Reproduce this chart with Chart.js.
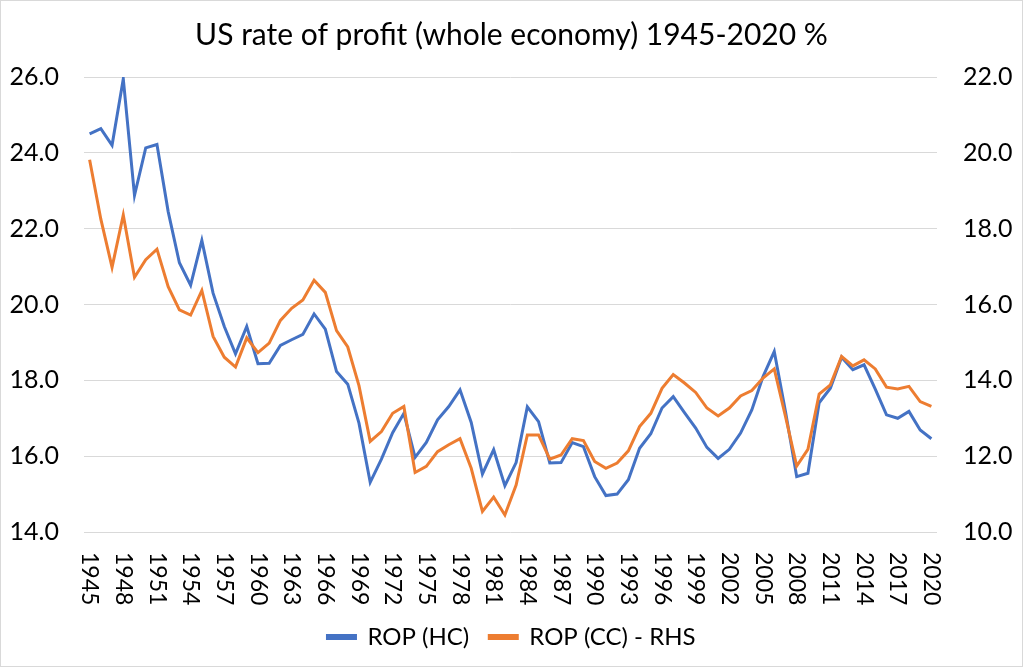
<!DOCTYPE html>
<html>
<head>
<meta charset="utf-8">
<script src="https://cdn.jsdelivr.net/npm/chart.js@4.4.1/dist/chart.umd.min.js"></script>
<style>
    html, body { margin: 0; padding: 0; background: #fff; }
    #wrap { width: 1023px; height: 667px; position: relative; }
</style>
</head>
<body>
<div id="wrap"><canvas id="myChart"></canvas></div>
<script>
const anios = [
    '1945', '1946', '1947', '1948', '1949', '1950', '1951', '1952', '1953', '1954',
    '1955', '1956', '1957', '1958', '1959', '1960', '1961', '1962', '1963', '1964',
    '1965', '1966', '1967', '1968', '1969', '1970', '1971', '1972', '1973', '1974',
    '1975', '1976', '1977', '1978', '1979', '1980', '1981', '1982', '1983', '1984',
    '1985', '1986', '1987', '1988', '1989', '1990', '1991', '1992', '1993', '1994',
    '1995', '1996', '1997', '1998', '1999', '2000', '2001', '2002', '2003', '2004',
    '2005', '2006', '2007', '2008', '2009', '2010', '2011', '2012', '2013', '2014',
    '2015', '2016', '2017', '2018', '2019', '2020'
];

// ROP (HC), eje izquierdo
const ropHC = [
    24.50, 24.64, 24.20, 25.95, 22.88, 24.13, 24.22, 22.45, 21.10, 20.51,
    21.69, 20.30, 19.42, 18.70, 19.42, 18.44, 18.45, 18.92, 19.07, 19.21,
    19.75, 19.35, 18.23, 17.90, 16.87, 15.31, 15.92, 16.62, 17.13, 15.97,
    16.36, 16.96, 17.31, 17.75, 16.89, 15.53, 16.17, 15.22, 15.83, 17.30,
    16.91, 15.82, 15.83, 16.36, 16.25, 15.46, 14.96, 15.00, 15.38, 16.21,
    16.59, 17.27, 17.57, 17.15, 16.74, 16.23, 15.94, 16.18, 16.61, 17.22,
    18.10, 18.76, 17.18, 15.46, 15.55, 17.41, 17.79, 18.61, 18.28, 18.41,
    17.77, 17.09, 17.00, 17.18, 16.69, 16.46
];

// ROP (CC), eje derecho
const ropCC = [
    19.82, 18.25, 16.98, 18.36, 16.72, 17.18, 17.46, 16.47, 15.86, 15.72,
    16.37, 15.16, 14.61, 14.35, 15.12, 14.73, 14.98, 15.58, 15.90, 16.12,
    16.64, 16.32, 15.31, 14.88, 13.86, 12.39, 12.65, 13.13, 13.31, 11.57,
    11.73, 12.12, 12.30, 12.46, 11.68, 10.54, 10.92, 10.45, 11.24, 12.56,
    12.56, 11.92, 12.03, 12.46, 12.41, 11.86, 11.68, 11.82, 12.14, 12.78,
    13.13, 13.79, 14.15, 13.93, 13.68, 13.27, 13.06, 13.27, 13.59, 13.73,
    14.06, 14.30, 13.05, 11.74, 12.18, 13.64, 13.88, 14.63, 14.38, 14.54,
    14.30, 13.82, 13.77, 13.84, 13.44, 13.31
];

const fuente = 'Lato, "Open Sans", sans-serif';

// Fondo blanco y marco gris
const marco = {
    id: 'marco',
    beforeDraw(chart) {
        const ctx = chart.ctx;
        ctx.save();
        ctx.fillStyle = '#fff';
        ctx.fillRect(0, 0, chart.width, chart.height);
        ctx.strokeStyle = '#d9d9d9';
        ctx.lineWidth = 1;
        ctx.strokeRect(0.5, 0.5, chart.width - 1, chart.height - 1);
        ctx.restore();
    }
};

// Etiquetas de años giradas hacia la derecha, como en Excel
const etiquetasX = {
    id: 'etiquetasX',
    afterDraw(chart) {
        const x = chart.scales.x;
        const ctx = chart.ctx;
        ctx.save();
        ctx.fillStyle = '#000';
        ctx.font = '23px ' + fuente;
        ctx.textAlign = 'left';
        ctx.textBaseline = 'middle';
        anios.forEach((a, i) => {
            if (i % 3 !== 0) return;
            ctx.save();
            ctx.translate(x.getPixelForValue(i), x.top + 20);
            ctx.rotate(Math.PI / 2);
            ctx.fillText(a, 0, 0);
            ctx.restore();
        });
        ctx.restore();
    }
};

function crearGrafico() {
    const ctx = document.getElementById('myChart').getContext('2d');

    new Chart(ctx, {
        type: 'line',
        data: {
            labels: anios,
            datasets: [
                {
                    label: 'ROP (HC)',
                    data: ropHC,
                    borderColor: '#4472C4',
                    backgroundColor: '#4472C4',
                    borderWidth: 3,
                    pointRadius: 0,
                    tension: 0,
                    yAxisID: 'y',
                    order: 2
                },
                {
                    label: 'ROP (CC) - RHS',
                    data: ropCC,
                    borderColor: '#ED7D31',
                    backgroundColor: '#ED7D31',
                    borderWidth: 3,
                    pointRadius: 0,
                    tension: 0,
                    yAxisID: 'y1',
                    order: 1
                }
            ]
        },
        options: {
            responsive: true,
            maintainAspectRatio: false,
            animation: false,
            layout: { padding: { top: 0, left: 0, right: 0, bottom: 8 } },
            plugins: {
                title: {
                    display: true,
                    text: 'US rate of profit (whole economy) 1945-2020 %',
                    color: '#000',
                    font: { family: fuente, size: 30, weight: 'normal' },
                    padding: { top: 17, bottom: 24 }
                },
                legend: {
                    position: 'bottom',
                    labels: {
                        color: '#000',
                        font: { family: fuente, size: 24 },
                        boxWidth: 28,
                        boxHeight: 3,
                        padding: 20,
                        sort: (a, b) => a.datasetIndex - b.datasetIndex
                    }
                },
                tooltip: { enabled: false }
            },
            scales: {
                x: {
                    offset: true,
                    grid: { display: false },
                    border: { display: false },
                    ticks: { display: false },
                    afterFit(scale) { scale.height = 73; }
                },
                y: {
                    position: 'left',
                    min: 14,
                    max: 26,
                    grid: { color: '#d9d9d9', lineWidth: 1, drawTicks: false },
                    border: { display: false },
                    ticks: {
                        stepSize: 2,
                        padding: 25,
                        color: '#000',
                        font: { family: fuente, size: 25 },
                        callback: v => v.toFixed(1)
                    },
                    afterFit(scale) { scale.width = 84; }
                },
                y1: {
                    position: 'right',
                    min: 10,
                    max: 22,
                    grid: { display: false, drawTicks: false },
                    border: { display: false },
                    ticks: {
                        stepSize: 2,
                        padding: 26,
                        color: '#000',
                        font: { family: fuente, size: 25 },
                        callback: v => v.toFixed(1)
                    },
                    afterFit(scale) { scale.width = 86; }
                }
            }
        },
        plugins: [marco, etiquetasX]
    });
}

window.onload = function () {
    crearGrafico();
};
</script>
</body>
</html>
